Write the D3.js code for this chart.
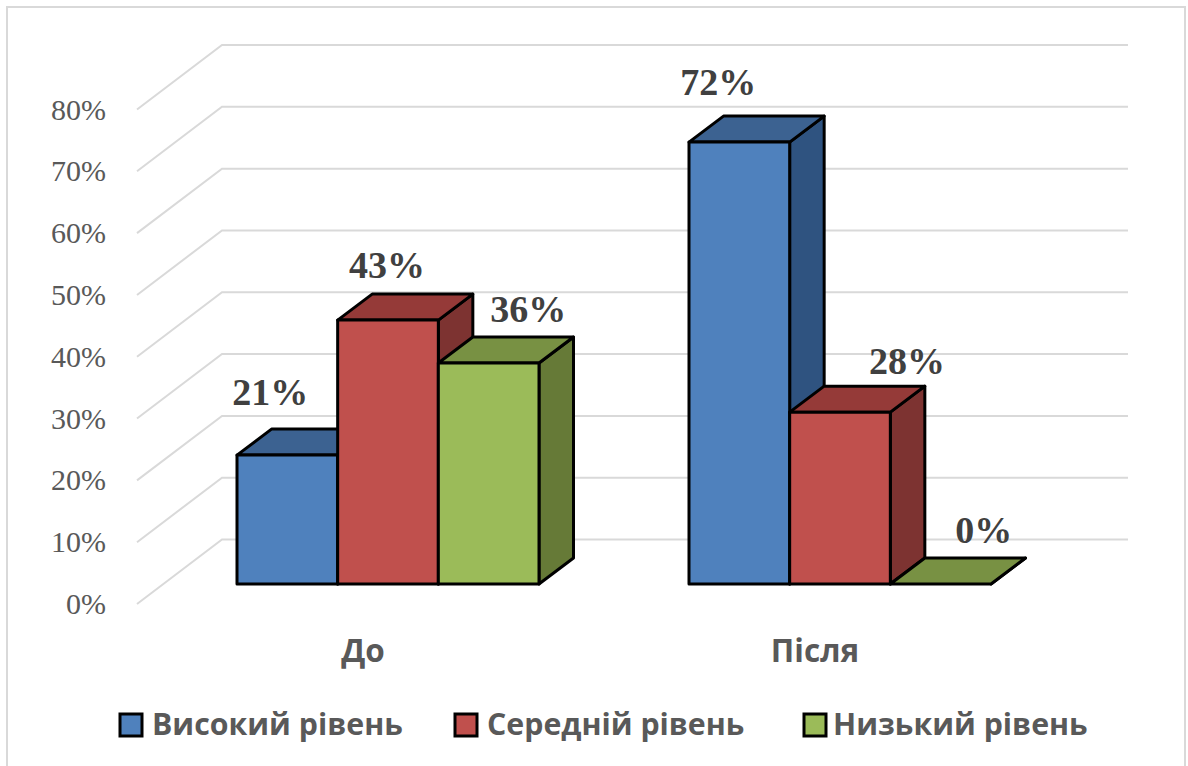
<!DOCTYPE html>
<html><head><meta charset="utf-8">
<script src="https://cdn.jsdelivr.net/npm/d3@7/dist/d3.min.js"></script>
<style>html,body{margin:0;padding:0;background:#fff;overflow:hidden}svg{display:block}</style>
</head><body><svg id="c" width="1188" height="766"></svg>
<script>
const categories = ["До", "Після"];
const seriesNames = ["Високий рівень", "Середній рівень", "Низький рівень"];
const highLevel = [21, 72];
const midLevel = [43, 28];
const lowLevel = [36, 0];
const yTicks = [0, 10, 20, 30, 40, 50, 60, 70, 80];
const frontColors = ["#4f81bd", "#c0504d", "#9bbb59"];
const topColors = ["#3c6291", "#953a38", "#789143"];
const sideColors = ["#2f5380", "#7d3331", "#667a37"];
const seriesValues = [highLevel, midLevel, lowLevel];

const svg = d3.select("#c");
const serif = "'Liberation Serif'", sans = "'Open Sans'";
svg.append("rect").attr("x",7).attr("y",7).attr("width",1178).attr("height",770)
  .attr("fill","#fff").attr("stroke","#d9d9d9").attr("stroke-width",2);

const gridY = d3.scaleLinear().domain([0,80]).range([539.5,45]);
const barY = d3.scaleLinear().domain([0,80]).range([584,93]);
const x0 = d3.scaleBand().domain(categories).range([137,1041]);
const x1 = d3.scaleBand().domain(seriesNames).range([100,402]);
const bw = x1.bandwidth(), dx = 34.5, dy = -26;
const wallDx = 85, wallDy = -64.5;

yTicks.forEach(t=>{
  const y = gridY(t);
  svg.append("path").attr("fill","none").attr("stroke","#d9d9d9").attr("stroke-width",2)
    .attr("d",d3.line()([[137,y-wallDy],[137+wallDx,y],[1128,y]]));
  svg.append("text").attr("x",106).attr("y",y-wallDy+10).attr("text-anchor","end")
    .attr("font-family",serif).attr("font-size",30).attr("fill","#595959").text(t+"%");
});

seriesNames.forEach((s,i)=>{
  categories.forEach((c,j)=>{
    const v = seriesValues[i][j];
    const x = x0(c)+x1(s), y = barY(v), b = barY(0), g = svg.append("g")
      .attr("stroke","#000").attr("stroke-width",3).attr("stroke-linejoin","round");
    const line = d3.line();
    g.append("path").attr("fill",sideColors[i]).attr("d",line([[x+bw,y],[x+bw+dx,y+dy],[x+bw+dx,b+dy],[x+bw,b]])+"Z");
    g.append("path").attr("fill",topColors[i]).attr("d",line([[x,y],[x+dx,y+dy],[x+bw+dx,y+dy],[x+bw,y]])+"Z");
    g.append("rect").attr("x",x).attr("y",y).attr("width",bw).attr("height",b-y).attr("fill",frontColors[i]);
  });
});

// hand-placed data label offsets from each bar's front top centre [series][category]
const labelShiftX = [[-17,-21],[-1,67],[39.5,43]];
const labelShiftY = [[-50,-47],[-42,-38],[-41,-41]];
seriesNames.forEach((s,i)=>{
  categories.forEach((c,j)=>{
    const v = seriesValues[i][j];
    svg.append("text").attr("x",x0(c)+x1(s)+bw/2+labelShiftX[i][j])
      .attr("y",barY(v)+labelShiftY[i][j]).attr("text-anchor","middle")
      .attr("font-family",serif).attr("font-weight","bold").attr("font-size",38).attr("fill","#404040").text(v+"%");
  });
});

categories.forEach(c=>{
  svg.append("text").attr("x",x0(c)+x0.bandwidth()/2).attr("y",662).attr("text-anchor","middle")
    .attr("font-family",sans).attr("font-weight","bold").attr("font-size",31.5).attr("fill","#595959").text(c);
});

const legX = [120,455,804], legT = [152,487,833];
seriesNames.forEach((s,i)=>{
  svg.append("rect").attr("x",legX[i]).attr("y",714).attr("width",22).attr("height",22)
    .attr("fill",frontColors[i]).attr("stroke","#000").attr("stroke-width",3);
  svg.append("text").attr("x",legT[i]).attr("y",735).attr("font-family",sans).attr("font-weight","bold")
    .attr("font-size",30.3).attr("fill","#595959").text(s);
});
</script></body></html>
